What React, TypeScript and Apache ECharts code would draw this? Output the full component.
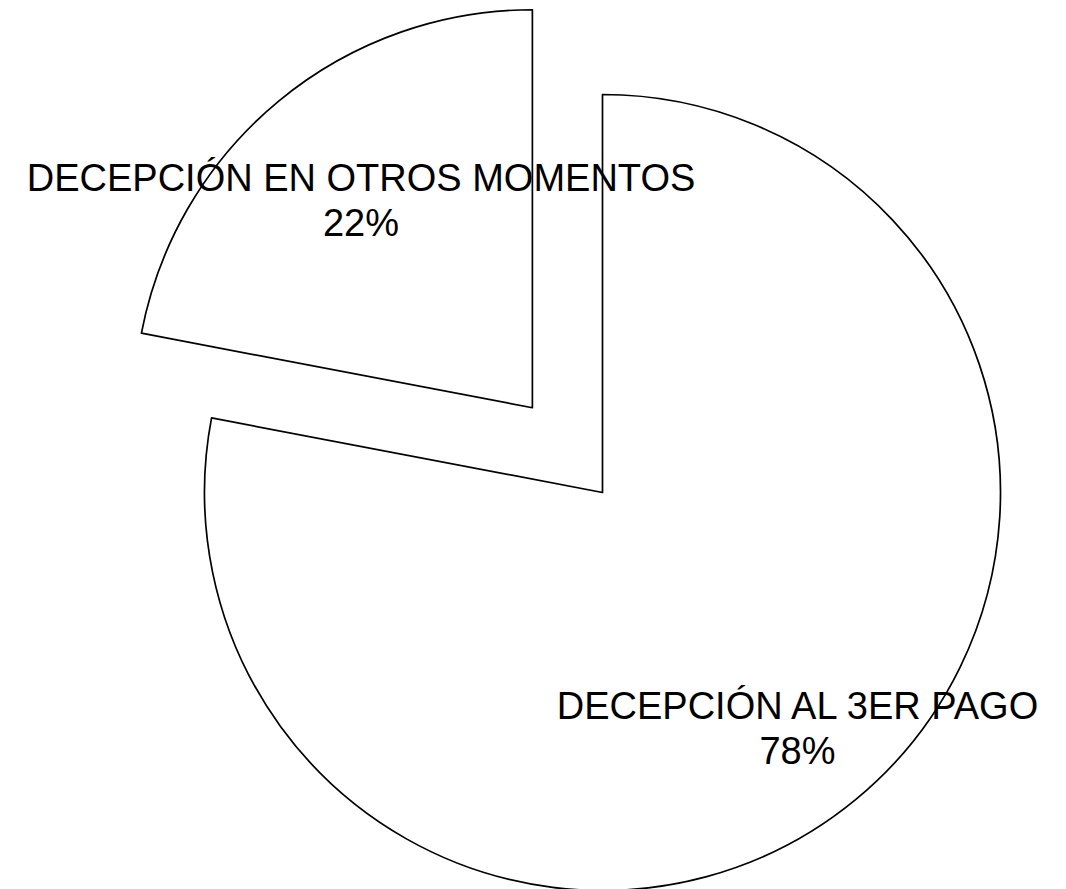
import React, { useEffect, useRef } from "react";
import * as echarts from "echarts";

const categories = ["DECEPCIÓN AL 3ER PAGO", "DECEPCIÓN EN OTROS MOMENTOS"];
const values = [78, 22];
const explodedIndex = 1;

export default function App() {
  const ref = useRef<HTMLDivElement>(null);
  useEffect(() => {
    if (!ref.current) return;
    const chart = echarts.init(ref.current, null, { renderer: "svg" });
    const cx = 602.5;
    const cy = 492.5;
    const r = 398;
    const offset = 110;
    const labelFrac = [0.761, 0.668];
    const total = values.reduce((a, b) => a + b, 0);
    const mids: number[] = [];
    let acc = 0;
    values.forEach((v) => {
      const start = 90 - (acc / total) * 360;
      const span = (v / total) * 360;
      mids.push(((start - span / 2) * Math.PI) / 180);
      acc += v;
    });
    // extra shift from the default "inside" spot (r/2) to the wanted radius
    const labelOffsets = mids.map((a, i) => {
      const extra = labelFrac[i] * r - r / 2;
      return [Math.cos(a) * extra, -Math.sin(a) * extra];
    });
    chart.setOption({
      animation: false,
      series: [
        {
          type: "pie",
          center: [cx, cy],
          radius: [0, r],
          startAngle: 90,
          clockwise: true,
          selectedMode: "single",
          selectedOffset: offset,
          avoidLabelOverlap: false,
          itemStyle: { color: "#ffffff", borderColor: "#000000", borderWidth: 1.7 },
          emphasis: { disabled: true },
          label: {
            show: true,
            position: "inside",
            color: "#000000",
            fontFamily: "Liberation Sans, Arial, Helvetica, sans-serif",
            fontSize: 38,
            lineHeight: 45,
            align: "center",
            verticalAlign: "middle",
            formatter: (p: any) => `${p.name}\n${Math.round(p.percent)}%`,
          },
          labelLine: { show: false },
          data: categories.map((name, i) => ({
            name,
            value: values[i],
            selected: i === explodedIndex,
            label: { offset: labelOffsets[i] },
            select: { label: { offset: labelOffsets[i] } },
          })),
        },
      ],
    });
    return () => chart.dispose();
  }, []);
  return (
    <div
      ref={ref}
      style={{ position: "fixed", left: 0, top: 0, width: 1066, height: 889, background: "#ffffff" }}
    />
  );
}
